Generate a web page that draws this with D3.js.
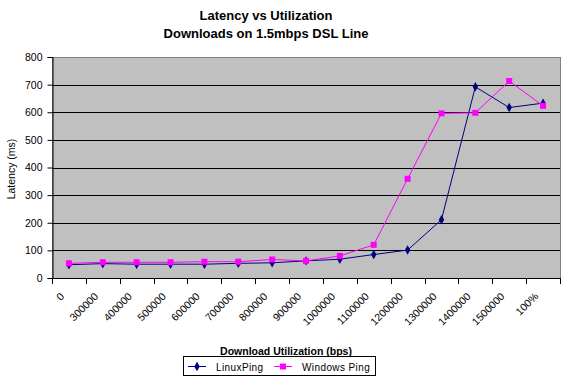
<!DOCTYPE html>
<html>
<head>
<meta charset="utf-8">
<script src="https://cdn.jsdelivr.net/npm/d3@7"></script>
<style>
  html, body { margin: 0; padding: 0; background: #ffffff; }
  svg { display: block; }
  text { font-family: "Liberation Sans", Arial, sans-serif; fill: #000; }
</style>
</head>
<body>
<svg id="chart" width="567" height="382"></svg>
<script>
const categories = ["0", "300000", "400000", "500000", "600000", "700000", "800000", "900000",
  "1000000", "1100000", "1200000", "1300000", "1400000", "1500000", "100%"];
const linuxPing = [48, 52, 50, 50, 50, 53, 55, 62, 68, 85, 101, 211, 692, 617, 633];
const windowsPing = [53, 57, 57, 57, 59, 59, 67, 62, 80, 120, 359, 596, 598, 713, 623];
const yTicks = [0, 100, 200, 300, 400, 500, 600, 700, 800];
const titleLines = ["Latency vs Utilization", "Downloads on 1.5mbps DSL Line"];
const seriesNames = ["LinuxPing", "Windows Ping"];

const svg = d3.select("#chart");
const L = 52, R = 560, T = 57, B = 278;

const x = d3.scaleBand().domain(categories).range([L, R]).padding(0);
const y = d3.scaleLinear().domain([0, 800]).range([B, T]);

// plot area
svg.append("rect").attr("x", L).attr("y", T).attr("width", R - L).attr("height", B - T)
  .attr("fill", "#c0c0c0").attr("stroke", "#808080").attr("stroke-width", 1)
  .attr("shape-rendering", "crispEdges");

// gridlines
svg.append("g").selectAll("line").data(yTicks.filter(d => d > 0 && d < 800)).join("line")
  .attr("x1", L).attr("x2", R)
  .attr("y1", d => Math.round(y(d)) + 0.5).attr("y2", d => Math.round(y(d)) + 0.5)
  .attr("stroke", "#000").attr("stroke-width", 1);

// y axis
const yAxis = d3.axisLeft(y).tickValues(yTicks).tickSize(5).tickPadding(5);
const gy = svg.append("g").attr("transform", `translate(${L + 0.5},0)`).call(yAxis);
gy.select(".domain").attr("stroke", "#000");
gy.selectAll(".tick line").attr("stroke", "#000");
gy.selectAll(".tick text").attr("font-size", "10.5px").attr("font-family", "Liberation Sans, Arial, sans-serif").attr("fill", "#000");

// x axis line and ticks at band boundaries
const boundaries = categories.map(c => x(c)).concat([x(categories[categories.length - 1]) + x.bandwidth()]);
svg.append("line").attr("x1", L).attr("x2", R).attr("y1", B + 0.5).attr("y2", B + 0.5).attr("stroke", "#000");
svg.append("g").selectAll("line").data(boundaries).join("line")
  .attr("x1", d => Math.round(d) + 0.5).attr("x2", d => Math.round(d) + 0.5)
  .attr("y1", B).attr("y2", B + 6).attr("stroke", "#000");

// x labels
svg.append("g").selectAll("text").data(categories).join("text")
  .attr("transform", d => `translate(${x(d) + x.bandwidth() / 2 - 4},${B + 19}) rotate(-45)`)
  .attr("text-anchor", "end")
  .attr("font-size", "10.5px")
  .text(d => d);

// lines
const line = d3.line().x((d, i) => x(categories[i]) + x.bandwidth() / 2).y(d => y(d));
svg.append("path").datum(linuxPing).attr("d", line).attr("fill", "none").attr("stroke", "#000080").attr("stroke-width", 1);
svg.append("path").datum(windowsPing).attr("d", line).attr("fill", "none").attr("stroke", "#ff00ff").attr("stroke-width", 1);

// markers
svg.append("g").selectAll("path").data(linuxPing).join("path")
  .attr("d", d3.symbol(d3.symbolDiamond, 26))
  .attr("transform", (d, i) => `translate(${x(categories[i]) + x.bandwidth() / 2},${y(d)})`)
  .attr("fill", "#000080");
svg.append("g").selectAll("rect").data(windowsPing).join("rect")
  .attr("x", (d, i) => x(categories[i]) + x.bandwidth() / 2 - 3)
  .attr("y", d => y(d) - 3)
  .attr("width", 6).attr("height", 6)
  .attr("fill", "#ff00ff");

// title
svg.append("g").selectAll("text").data(titleLines).join("text")
  .attr("x", 266).attr("y", (d, i) => 20 + i * 18)
  .attr("text-anchor", "middle").attr("font-size", "13px").attr("font-weight", "bold")
  .text(d => d);

// axis titles
svg.append("text").attr("x", 286).attr("y", 355).attr("text-anchor", "middle")
  .attr("font-size", "10.5px").attr("font-weight", "bold").text("Download Utilization (bps)");
svg.append("text").attr("transform", "translate(15,169) rotate(-90)").attr("text-anchor", "middle")
  .attr("font-size", "10.5px").text("Latency (ms)");

// legend
const lg = svg.append("g");
lg.append("rect").attr("x", 183.5).attr("y", 356.5).attr("width", 192).attr("height", 19)
  .attr("fill", "#fff").attr("stroke", "#000");
const legendItems = [
  { name: seriesNames[0], color: "#000080", x0: 188, tx: 216, shape: "diamond" },
  { name: seriesNames[1], color: "#ff00ff", x0: 274, tx: 302, shape: "square" }
];
legendItems.forEach(it => {
  lg.append("line").attr("x1", it.x0).attr("x2", it.x0 + 18).attr("y1", 366.5).attr("y2", 366.5)
    .attr("stroke", it.color);
  if (it.shape === "diamond") {
    lg.append("path").attr("d", d3.symbol(d3.symbolDiamond, 26)).attr("transform", `translate(${it.x0 + 9},366.5)`).attr("fill", it.color);
  } else {
    lg.append("rect").attr("x", it.x0 + 6).attr("y", 363.5).attr("width", 6).attr("height", 6).attr("fill", it.color);
  }
  lg.append("text").attr("x", it.tx).attr("y", 370.5).attr("font-size", "10px").attr("letter-spacing", "0.4px").text(it.name);
});
</script>
</body>
</html>
